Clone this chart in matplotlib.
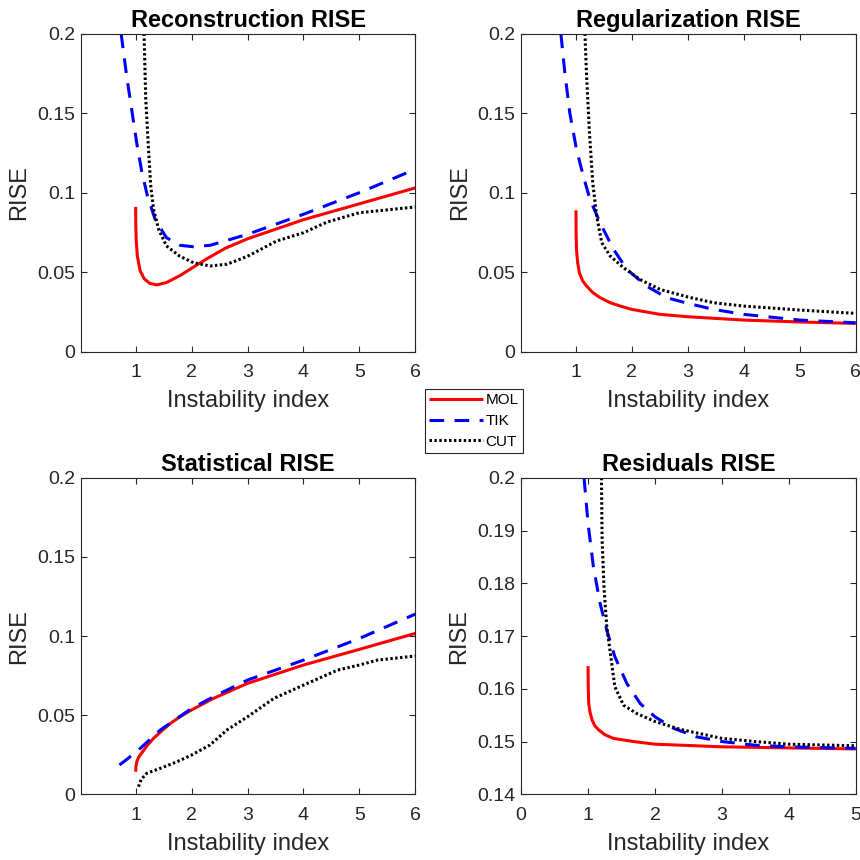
import matplotlib
matplotlib.use('Agg')
from matplotlib import pyplot as plt

plt.rcParams['font.family'] = ['Liberation Sans', 'DejaVu Sans']

# --- Reconstruction RISE ---
rec_mol_x = [1.0, 1.002, 1.01, 1.03, 1.08, 1.15, 1.25, 1.38, 1.55, 1.8, 2.0, 2.3, 2.6, 3.0, 3.5, 4.0, 4.5, 5.0, 5.5, 6.0]
rec_mol_y = [0.091, 0.080, 0.070, 0.060, 0.051, 0.046, 0.043, 0.042, 0.0435, 0.048, 0.0525, 0.059, 0.065, 0.071, 0.077, 0.083, 0.088, 0.093, 0.098, 0.103]
rec_tik_x = [0.74, 0.84, 0.93, 1.02, 1.11, 1.21, 1.35, 1.55, 1.79, 2.03, 2.33, 3.0, 4.0, 5.0, 6.0]
rec_tik_y = [0.2, 0.173, 0.152, 0.131, 0.113, 0.098, 0.083, 0.0717, 0.0669, 0.066, 0.0669, 0.0738, 0.0864, 0.100, 0.1147]
rec_cut_x = [1.15, 1.18, 1.23, 1.27, 1.32, 1.41, 1.55, 1.79, 2.03, 2.33, 2.63, 3.0, 3.52, 4.0, 4.42, 5.0, 5.31, 6.0]
rec_cut_y = [0.2, 0.159, 0.127, 0.104, 0.0895, 0.077, 0.0665, 0.060, 0.056, 0.0539, 0.055, 0.060, 0.0696, 0.0748, 0.0815, 0.0874, 0.0885, 0.091]

# --- Regularization RISE ---
reg_mol_x = [1.0, 1.002, 1.01, 1.03, 1.06, 1.12, 1.19, 1.3, 1.43, 1.6, 1.79, 2.0, 2.5, 3.0, 4.0, 5.0, 6.0]
reg_mol_y = [0.0889, 0.075, 0.064, 0.056, 0.0497, 0.0445, 0.0413, 0.0372, 0.034, 0.031, 0.0287, 0.0266, 0.0235, 0.022, 0.0199, 0.0187, 0.0178]
reg_tik_x = [0.73, 0.8, 0.89, 1.01, 1.13, 1.25, 1.43, 1.67, 1.91, 2.26, 2.62, 3.0, 3.46, 4.0, 5.0, 6.0]
reg_tik_y = [0.2, 0.1755, 0.150, 0.127, 0.1105, 0.0958, 0.0811, 0.0644, 0.0518, 0.0413, 0.034, 0.0304, 0.0266, 0.0235, 0.0199, 0.0182]
reg_cut_x = [1.16, 1.19, 1.24, 1.30, 1.37, 1.46, 1.61, 1.85, 2.14, 2.5, 3.0, 3.46, 4.0, 5.0, 6.0]
reg_cut_y = [0.2, 0.173, 0.138, 0.106, 0.0853, 0.0686, 0.0602, 0.0528, 0.0455, 0.0392, 0.0344, 0.0308, 0.0287, 0.0262, 0.0241]

# --- Statistical RISE ---
sta_mol_x = [1.0, 1.005, 1.02, 1.05, 1.11, 1.2, 1.32, 1.47, 1.62, 1.8, 2.0, 2.39, 3.0, 4.0, 5.0, 6.0]
sta_mol_y = [0.0143, 0.0175, 0.0205, 0.0232, 0.0262, 0.0305, 0.0354, 0.0402, 0.0448, 0.0492, 0.0533, 0.0606, 0.0701, 0.0817, 0.0916, 0.1017]
sta_tik_x = [0.71, 1.02, 1.44, 2.0, 2.45, 3.0, 4.0, 5.0, 6.0]
sta_tik_y = [0.0185, 0.027, 0.0406, 0.0543, 0.0627, 0.0722, 0.0848, 0.0985, 0.1139]
sta_cut_x = [1.05, 1.1, 1.2, 1.44, 1.74, 2.0, 2.33, 2.63, 3.0, 3.47, 4.0, 4.61, 5.0, 5.32, 6.0]
sta_cut_y = [0.0048, 0.0095, 0.0133, 0.0164, 0.0206, 0.0248, 0.0312, 0.0406, 0.049, 0.0606, 0.069, 0.0785, 0.0817, 0.0848, 0.0874]

# --- Residuals RISE ---
res_mol_x = [1.0, 1.003, 1.01, 1.03, 1.06, 1.1, 1.16, 1.25, 1.38, 1.68, 2.0, 3.0, 4.0, 5.0]
res_mol_y = [0.1643, 0.160, 0.1572, 0.1555, 0.1541, 0.153, 0.1522, 0.1513, 0.1506, 0.150, 0.1495, 0.149, 0.1488, 0.1486]
res_tik_x = [0.94, 1.0, 1.08, 1.18, 1.28, 1.40, 1.58, 1.78, 2.0, 2.28, 2.62, 3.0, 3.5, 4.0, 5.0]
res_tik_y = [0.2, 0.1913, 0.1831, 0.1762, 0.1711, 0.1661, 0.161, 0.1572, 0.1547, 0.1525, 0.1509, 0.150, 0.1493, 0.149, 0.1487]
res_cut_x = [1.2, 1.21, 1.24, 1.28, 1.34, 1.40, 1.53, 1.73, 2.0, 2.38, 3.0, 3.5, 4.0, 5.0]
res_cut_y = [0.2, 0.1882, 0.1787, 0.1718, 0.1661, 0.1604, 0.1569, 0.1553, 0.1538, 0.1523, 0.1506, 0.150, 0.1495, 0.1492]

labels = ['MOL', 'TIK', 'CUT']
axis_gray = '#262626'
lw = 2.2


def draw_panel(ax, title, series, xlim, xticks, ylim, yticks, yticklabels):
    mol, tik, cut = series
    h1, = ax.plot(mol[0], mol[1], color='#ff0000', lw=lw, solid_capstyle='butt')
    h2, = ax.plot(tik[0], tik[1], color='#0000ff', lw=lw, linestyle=(0, (4.8, 3.4)))
    h3, = ax.plot(cut[0], cut[1], color='black', lw=lw, linestyle=(0, (0.8, 0.8)))
    ax.set_xlim(xlim)
    ax.set_ylim(ylim)
    ax.set_xticks(xticks)
    ax.set_yticks(yticks)
    ax.set_yticklabels(yticklabels)
    ax.set_title(title, fontsize=17, fontweight='bold', pad=5)
    ax.set_xlabel('Instability index', fontsize=17, color=axis_gray, labelpad=6.5)
    ax.set_ylabel('RISE', fontsize=17, color=axis_gray, labelpad=5)
    ax.tick_params(direction='in', top=True, right=True, length=4, width=0.8,
                   labelsize=14, colors=axis_gray)
    ax.tick_params(axis='x', pad=9)
    ax.tick_params(axis='y', pad=4)
    for s in ax.spines.values():
        s.set_color(axis_gray)
        s.set_linewidth(0.8)
    return [h1, h2, h3]


fig = plt.figure(figsize=(8.6, 8.6), dpi=100)
ax1 = fig.add_axes([0.094, 0.591, 0.389, 0.370])
ax2 = fig.add_axes([0.606, 0.591, 0.389, 0.370])
ax3 = fig.add_axes([0.094, 0.0764, 0.389, 0.368])
ax4 = fig.add_axes([0.606, 0.0764, 0.389, 0.368])

yt = [0, 0.05, 0.1, 0.15, 0.2]
ytl = ['0', '0.05', '0.1', '0.15', '0.2']
xt = [1, 2, 3, 4, 5, 6]

handles = draw_panel(ax1, 'Reconstruction RISE',
                     [(rec_mol_x, rec_mol_y), (rec_tik_x, rec_tik_y), (rec_cut_x, rec_cut_y)],
                     (0.02, 6), xt, (0, 0.2), yt, ytl)
draw_panel(ax2, 'Regularization RISE',
           [(reg_mol_x, reg_mol_y), (reg_tik_x, reg_tik_y), (reg_cut_x, reg_cut_y)],
           (0.02, 6), xt, (0, 0.2), yt, ytl)
draw_panel(ax3, 'Statistical RISE',
           [(sta_mol_x, sta_mol_y), (sta_tik_x, sta_tik_y), (sta_cut_x, sta_cut_y)],
           (0.02, 6), xt, (0, 0.2), yt, ytl)
draw_panel(ax4, 'Residuals RISE',
           [(res_mol_x, res_mol_y), (res_tik_x, res_tik_y), (res_cut_x, res_cut_y)],
           (0, 5), [0, 1, 2, 3, 4, 5], (0.14, 0.2),
           [0.14, 0.15, 0.16, 0.17, 0.18, 0.19, 0.2],
           ['0.14', '0.15', '0.16', '0.17', '0.18', '0.19', '0.2'])

leg = fig.legend(handles, labels, loc='center', bbox_to_anchor=(0.5512, 0.5105),
                 fontsize=11, handlelength=3.5, handletextpad=0.2, labelspacing=0.45,
                 borderpad=0.3, borderaxespad=0, fancybox=False, framealpha=1,
                 edgecolor=axis_gray)
leg.get_frame().set_linewidth(0.8)

fig.savefig('out.png', dpi=100)
